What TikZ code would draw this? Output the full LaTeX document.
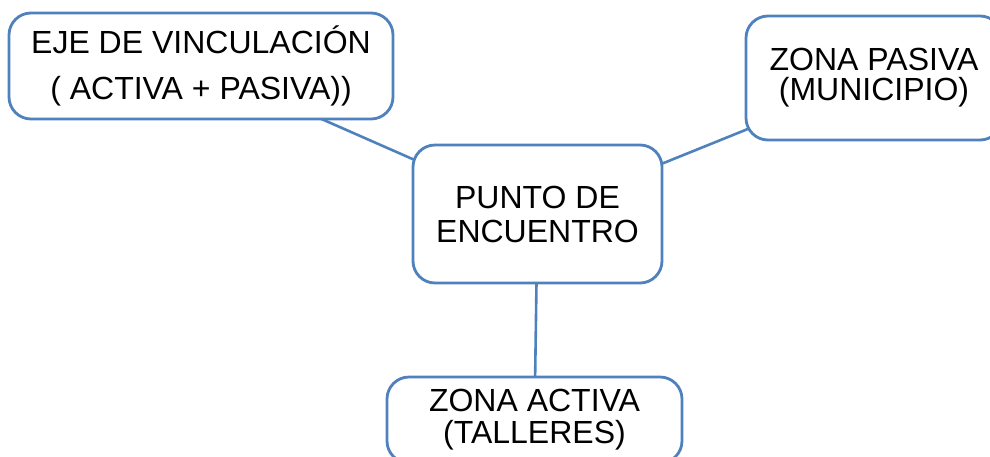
\documentclass[tikz,border=0pt]{standalone}
\usepackage{fontspec}
\setmainfont{Liberation Sans}
\usetikzlibrary{shapes,backgrounds}
\definecolor{boxblue}{RGB}{79,129,189}

\begin{document}
\begin{tikzpicture}[x=1pt,y=-1pt,
  caja/.style={draw=boxblue,line width=2.8pt,fill=white,rounded corners=22pt,
    align=center,inner sep=0pt,font=\fontsize{32}{34}\selectfont},
  enlace/.style={draw=boxblue,line width=2.6pt}]
\useasboundingbox (0,0) rectangle (990,456);
\clip (0,0) rectangle (990,456);
\node[caja,minimum width=384pt,minimum height=106pt] (eje) at (201,66) {EJE DE VINCULACI\'ON\\[12pt]( ACTIVA + PASIVA))};
\node[caja,minimum width=256pt,minimum height=124pt,font=\fontsize{32}{30}\selectfont] (pasiva) at (874,78) {ZONA PASIVA\\(MUNICIPIO)};
\node[caja,minimum width=249pt,minimum height=138pt] (punto) at (537.5,214) {PUNTO DE\\ENCUENTRO};
\node[caja,minimum width=295pt,minimum height=86pt,font=\fontsize{32}{32}\selectfont] (activa) at (534.5,420) {ZONA ACTIVA\\(TALLERES)};
% lineas detras de las cajas
\begin{scope}[on background layer]
\draw[enlace] (eje.center) -- (punto.center);
\draw[enlace] (punto.center) -- (pasiva.center);
\draw[enlace] (punto.center) -- (activa.center);
\end{scope}
\end{tikzpicture}
\end{document}
